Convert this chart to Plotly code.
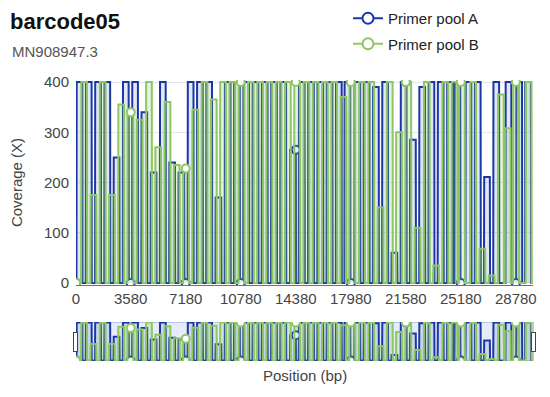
import numpy as np
import plotly.graph_objects as go

# ---- data ----
GENOME_LENGTH = 29903
AMPLICON_LENGTH = 400

pool_a_starts = [30, 636, 1242, 1848, 2454, 3060, 3666, 4272, 4878, 5484,
                 6090, 6696, 7302, 7908, 8514, 9120, 9726, 10332, 10938, 11544,
                 12150, 12756, 13362, 14000, 14574, 15180, 15786, 16392, 16998, 17560,
                 18210, 18816, 19422, 20028, 20634, 21240, 21846, 22452, 23058, 23664,
                 24270, 24760, 25482, 26088, 26694, 27300, 28100, 28800, 29380]
pool_a_cov = [400, 400, 400, 400, 250, 400, 400, 340, 220, 400,
              240, 220, 400, 400, 400, 170, 400, 400, 400, 400,
              400, 400, 400, 265, 400, 400, 400, 400, 400, 400,
              400, 400, 390, 400, 60, 400, 285, 390, 400, 400,
              400, 400, 400, 400, 211, 400, 400, 400, 400]

pool_b_starts = [333, 939, 1545, 2151, 2757, 3363, 3969, 4575, 5181, 5787,
                 6393, 6999, 7605, 8211, 8817, 9423, 10029, 10635, 11241, 11847,
                 12453, 13059, 13665, 14271, 14877, 15483, 16089, 16695, 17301, 17877,
                 18513, 19119, 19725, 20331, 20937, 21543, 22149, 22755, 23361, 23967,
                 24573, 25050, 25785, 26391, 26997, 27603, 28050, 28600, 29421]
pool_b_cov = [400, 175, 400, 175, 355, 340, 325, 400, 270, 360,
              235, 228, 345, 400, 365, 400, 400, 400, 400, 400,
              400, 400, 400, 400, 400, 400, 400, 400, 370, 400,
              400, 400, 150, 400, 300, 400, 110, 400, 35, 400,
              400, 400, 400, 68, 15, 375, 308, 400, 400]

tick_positions = [0, 3580, 7180, 10780, 14380, 17980, 21580, 25180, 28780]
tick_labels = ["0", "3580", "7180", "10780", "14380", "17980", "21580", "25180", "28780"]

COLOR_A = "#1a37a6"
COLOR_B = "#8dc763"
RAMP = 15


def profile(starts, covs):
    xs, ys = [0], [0]
    for s, c in zip(starts, covs):
        e = s + AMPLICON_LENGTH
        xs += [s, s + RAMP, e - RAMP, e]
        ys += [0, c, c, 0]
    xs.append(GENOME_LENGTH)
    ys.append(0)
    return np.array(xs, dtype=float), np.array(ys, dtype=float)


ax, ay = profile(pool_a_starts, pool_a_cov)
bx, by = profile(pool_b_starts, pool_b_cov)

fig = go.Figure()

fig.add_trace(go.Scatter(x=ax, y=ay, mode="lines", line=dict(color=COLOR_A, width=2),
                         fill="tozeroy", fillcolor="rgba(26,55,166,0.12)",
                         showlegend=False, hoverinfo="skip"))
fig.add_trace(go.Scatter(x=tick_positions, y=np.interp(tick_positions, ax, ay), mode="markers",
                         marker=dict(symbol="circle", size=8, color="white",
                                     line=dict(color=COLOR_A, width=2)),
                         showlegend=False))
fig.add_trace(go.Scatter(x=bx, y=by, mode="lines", line=dict(color=COLOR_B, width=2),
                         fill="tozeroy", fillcolor="rgba(141,199,99,0.22)",
                         showlegend=False, hoverinfo="skip"))
fig.add_trace(go.Scatter(x=tick_positions, y=np.interp(tick_positions, bx, by), mode="markers",
                         marker=dict(symbol="circle", size=8, color="white",
                                     line=dict(color=COLOR_B, width=2)),
                         showlegend=False))

# legend entries
for name, col, grp in [("Primer pool A", COLOR_A, "a"), ("Primer pool B", COLOR_B, "b")]:
    fig.add_trace(go.Scatter(x=[None], y=[None], mode="lines+markers", name=name,
                             legendgroup=grp,
                             line=dict(color=col, width=2),
                             marker=dict(symbol="circle", size=11, color="white",
                                         line=dict(color=col, width=2))))

FONT = "Liberation Sans, Arial, sans-serif"
W, H = 542, 389  # page body has an 8px margin

fig.update_layout(
    width=W, height=H,
    margin=dict(l=68, r=17, t=72, b=112, autoexpand=False),
    paper_bgcolor="white", plot_bgcolor="white",
    font=dict(family=FONT, size=15, color="#444"),
    title=dict(text="<b>barcode05</b>", x=2 / W, xanchor="left",
               y=1 - 13 / H, yanchor="middle",
               font=dict(size=22, color="#111", family=FONT)),
    annotations=[
        dict(text="MN908947.3", xref="paper", yref="paper",
             x=-66 / 457, y=1 + (80 - 52) / 205, xanchor="left", yanchor="middle",
             showarrow=False, font=dict(size=15, color="#555", family=FONT)),
        dict(text="Position (bp)", xref="paper", yref="paper",
             x=0.5, y=-(367 - 277) / 205, xanchor="center", yanchor="middle",
             showarrow=False, font=dict(size=15, color="#444", family=FONT)),
    ],
    legend=dict(x=(348 - 76) / 457, y=1 + (80 - 2) / 205,
                xanchor="left", yanchor="top", bgcolor="rgba(0,0,0,0)",
                font=dict(size=15, color="#222"), tracegroupgap=3, itemwidth=30),
    xaxis=dict(range=[0, GENOME_LENGTH], tickmode="array", tickvals=tick_positions,
               ticktext=tick_labels, showgrid=False, zeroline=False, tickangle=0,
               showline=True, linecolor="#6e7079", ticks="",
               rangeslider=dict(visible=True, thickness=0.19, bgcolor="#e6ecf9",
                                range=[0, GENOME_LENGTH],
                                bordercolor="#b9c6e8", borderwidth=1)),
    yaxis=dict(range=[-4, 404], tickvals=[0, 100, 200, 300, 400], showgrid=True,
               gridcolor="#e0e6f1", zeroline=False, showline=False, ticks="",
               ticklabelstandoff=6,
               title=dict(text="Coverage (X)", font=dict(size=15, color="#444"), standoff=19)),
)

fig.write_html("out.html")
